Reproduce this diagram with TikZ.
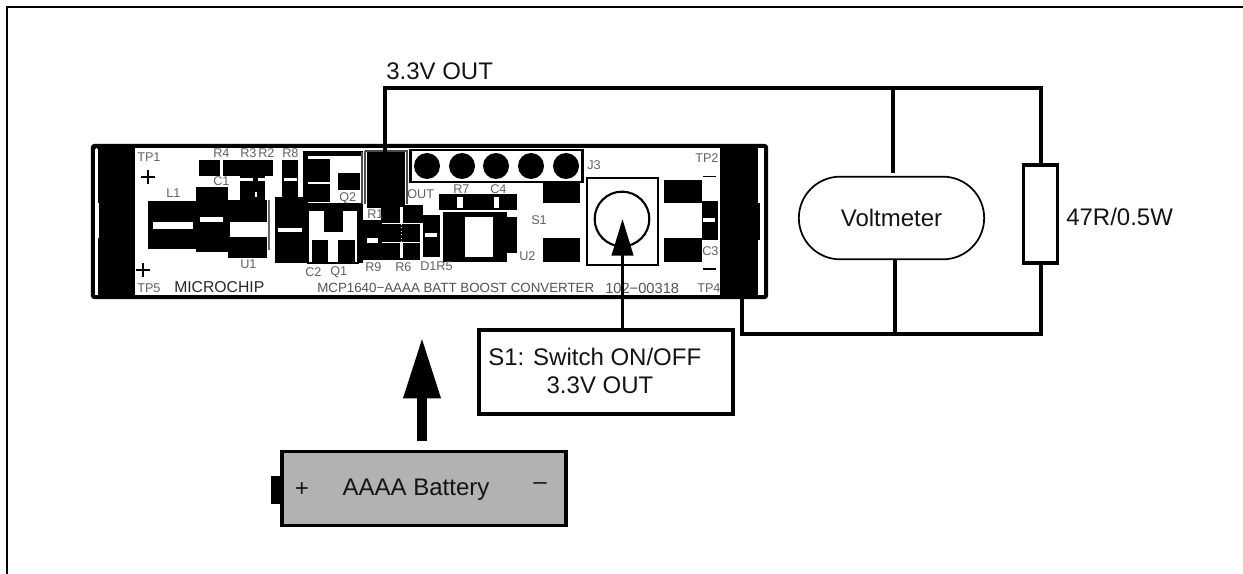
\documentclass[tikz,border=0pt]{standalone}
\usepackage{fontspec}
\setmainfont{Liberation Sans}
\usetikzlibrary{shapes.misc,arrows.meta}
\tikzset{
 x=0.75pt,y=-0.75pt,
 wire/.style={line width=2.3pt,draw=black},
 lab/.style={font=\fontsize{18}{20}\selectfont,text=black!92,inner sep=0pt},
 pcb/.style={font=\fontsize{9.5}{10}\selectfont,text=black!62,inner sep=0pt},
 silk/.style={font=\fontsize{10}{11}\selectfont,text=black!68,inner sep=0pt},
 bigarrow/.style={line width=8pt,-{Triangle[width=26pt,length=46pt]}},
 medarrow/.style={line width=2.4pt,-{Triangle[width=16pt,length=27.5pt]}}
}
\begin{document}
\begin{tikzpicture}
\useasboundingbox (0,0) rectangle (1243,574);
% page frame
\draw[line width=1.5pt] (7,574) -- (7,7) -- (1243,7);
% board
\node[draw=black,line width=3pt,rounded corners=1.5pt,minimum width=505pt,minimum height=113.5pt,inner sep=0] (board) at (429.5,221.5) {};
\fill (97,147) rectangle (135,296);
\fill (720,147) rectangle (758,296);
\fill (93,147) rectangle (96,296);
\fill[white] (95,149) rectangle (97.5,295);
\fill[white] (758,149) rectangle (762,295);
\fill (758,203) rectangle (760,240);
\fill[white] (97,203) rectangle (98.5,238);
% --- left parts
\fill (199,160) rectangle (273,176);
\fill[white] (220,160) rectangle (222.5,176);
\fill (240,176) rectangle (265,200);
\fill (282,160) rectangle (298,197);
\fill[white] (240,178) rectangle (253,181.5);
\fill[white] (258,178) rectangle (272,181.5);
\fill[white] (284,178) rectangle (297,181.5);
\fill[white] (255,192) rectangle (257,197);
\fill (196,187) rectangle (228,252);
\fill (148,201) rectangle (197,249);
\fill (228,200) rectangle (267,258);
\fill[white] (153,222) rectangle (193,229);
\fill[white] (200,217) rectangle (223,222);
\fill[white] (230,222) rectangle (267,237);
\draw[black!60,line width=1.4pt] (269,200) -- (269,250);
\fill (275,197) rectangle (308,263);
\fill[white] (278,228) rectangle (302,232);
% Q2 block
\fill (303,151) rectangle (363,156);
\fill (303,151) rectangle (308,210);
\fill (303,203) rectangle (363,210);
\draw[black!70,line width=1.2pt] (362,152) -- (362,204);
\fill (308,159) rectangle (330,182);
\fill (308,184) rectangle (330,202);
\fill (338,173) rectangle (360,190);
% Q1 block
\draw[line width=1.5pt] (308,210) rectangle (358,263);
\fill (324,210) rectangle (343,232);
\fill (312,240) rectangle (328,263);
\fill (338,240) rectangle (355,263);
\fill (358,205) rectangle (363,263);
% R1 stack
\draw[black!70,line width=1pt] (365,151) -- (407,151) -- (407,204);
\draw[black!70,line width=1pt] (365,151) -- (365,204);
\fill (367,152) rectangle (405,220);
\fill[white] (366,208) rectangle (381,220);
\fill (363,220) rectangle (420,260);
\fill (400,205) rectangle (423,223);
\fill (423,215) rectangle (440,257);
\fill[white] (367,238) rectangle (378,243);
\fill[white] (400,207) rectangle (403,224);
\fill[white] (400,242) rectangle (403,258);
\draw[white,line width=0.6pt,dotted] (401.5,224) -- (401.5,242);
\draw[white,line width=0.7pt] (382,223) -- (420,223);
\draw[white,line width=0.7pt] (382,242) -- (420,242);
\fill[white] (425,233) rectangle (437,237);
% U2
\fill (439,194) rectangle (517,210);
\fill (443,212) rectangle (507,262);
\fill (507,217) rectangle (517,253);
\fill[white] (457,197) rectangle (463,208);
\fill[white] (494,197) rectangle (499,208);
\fill[white] (465,217) rectangle (493,257);
% J3
\node[draw=black,line width=1.8pt,minimum width=129pt,minimum height=24pt,inner sep=0] (jbox) at (496.5,166) {};
\foreach \px/\nm in {427/ja,462/jb,496/jc,531/jd,566/je}
  \node[circle,fill=black,minimum size=19.5pt,inner sep=0] (\nm) at (\px,166) {};
% S1 pads
\fill (543,183) rectangle (580,203);
\fill (543,238) rectangle (580,262);
\fill (664,180) rectangle (702,203);
\fill (664,238) rectangle (702,262);
\fill (702,201) rectangle (718,240);
\fill[white] (703,218) rectangle (715,222);
\draw[line width=1pt] (703,176.7) -- (716,176.7);
\draw[line width=1pt] (703,269) -- (716,269);
\node[draw=black,line width=1.8pt,minimum width=53pt,minimum height=65pt,inner sep=0] (swbox) at (622.5,221.5) {};
\node[circle,draw=black,line width=1.6pt,minimum size=41pt,inner sep=0] (knob) at (622,219) {};
% + marks
\draw[line width=1.5pt] (141,177) -- (155,177) (148,170) -- (148,184);
\draw[line width=1.5pt] (136,270) -- (150,270) (143,263) -- (143,277);
% PCB silk text
\node[pcb,anchor=west] at (137,157) {TP1};
\node[pcb,anchor=west] at (137,288) {TP5};
\node[pcb,anchor=west] at (213,153) {R4};
\node[pcb,anchor=west] at (240,153) {R3};
\node[pcb,anchor=west] at (258,153) {R2};
\node[pcb,anchor=west] at (282,153) {R8};
\node[pcb,anchor=west] at (213,181) {C1};
\node[pcb,anchor=west] at (166,193) {L1};
\node[pcb,anchor=west] at (240,264) {U1};
\node[pcb,anchor=west] at (339,198) {Q2};
\node[pcb,anchor=west] at (367,214) {R1};
\node[pcb,anchor=west] at (305,272) {C2};
\node[pcb,anchor=west] at (330,272) {Q1};
\node[pcb,anchor=west] at (365,267) {R9};
\node[pcb,anchor=west] at (395,267) {R6};
\node[pcb,anchor=west] at (420,266) {D1R5};
\node[pcb,anchor=west] at (407,194) {OUT};
\node[pcb,anchor=west] at (453,189) {R7};
\node[pcb,anchor=west] at (490,189) {C4};
\node[pcb,anchor=west] at (531,220) {S1};
\node[pcb,anchor=west] at (519,256) {U2};
\node[pcb,anchor=west] at (587,165) {J3};
\node[pcb,anchor=west] at (695,158) {TP2};
\node[pcb,anchor=west] at (702,251) {C3};
\node[pcb,anchor=west] at (697,288) {TP4};
\node[pcb,anchor=west,font=\fontsize{11.8}{13}\selectfont,text=black!85] at (174,287) {MICROCHIP};
\node[silk,anchor=west] at (317,288) {MCP1640−AAAA BATT BOOST CONVERTER};
\node[silk,anchor=west,font=\fontsize{11}{12}\selectfont] at (605,288) {102−00318};
% Voltmeter + resistor
\node[rounded rectangle,draw=black,line width=1.3pt,minimum width=139pt,minimum height=62pt,inner sep=0,lab] (vm) at (891.5,218) {Voltmeter};
\node[draw=black,line width=2.4pt,fill=white,minimum width=25pt,minimum height=73.5pt,inner sep=0] (res) at (1040.5,214) {};
\node[lab,anchor=west] (reslab) at (1066,217) {47R/0.5W};
% wires
\coordinate (top) at (385,88);
\coordinate (topj) at (893,88);
\coordinate (topstop) at (893,173);
\coordinate (topr) at (1041,88);
\coordinate (botl) at (742,334);
\coordinate (botj) at (895,334);
\coordinate (botr) at (1041,334);
\coordinate (padr) at (385,152);
\node[lab,anchor=west] (outlab) at (386,71) {3.3V OUT};
\draw[wire] (padr) -- (top) -- (topr) -- (topr |- res.north);
\draw[wire] (topj) -- (topstop);
\draw[wire] (botl |- board.south) -- (botl) -- (botr) -- (botr |- res.south);
\draw[wire] (botj |- vm.south) -- (botj);
% S1 label box
\node[draw=black,line width=2.3pt,fill=white,minimum width=190.5pt,minimum height=63pt,inner sep=0] (sbox) at (606,372) {};
\node[lab,anchor=west] (sa) at (488,357) {S1: Switch ON/OFF};
\node[lab] (sb) at (600,385) {3.3V OUT};
\draw[medarrow] (622.5,330) -- (622.5,219);
% battery
\node[draw=black,line width=2.3pt,fill=black!30,minimum width=213pt,minimum height=56pt,inner sep=0] (batt) at (424,488.5) {};
\fill (271,476) rectangle (283,504);
\node[lab] (bp) at (302,490) {+};
\node[lab] (bt) at (416,490) {AAAA Battery};
\node[lab] (bm) at (540,486) {–};
\draw[bigarrow] (422,441) -- (422,337);
\end{tikzpicture}
\end{document}
